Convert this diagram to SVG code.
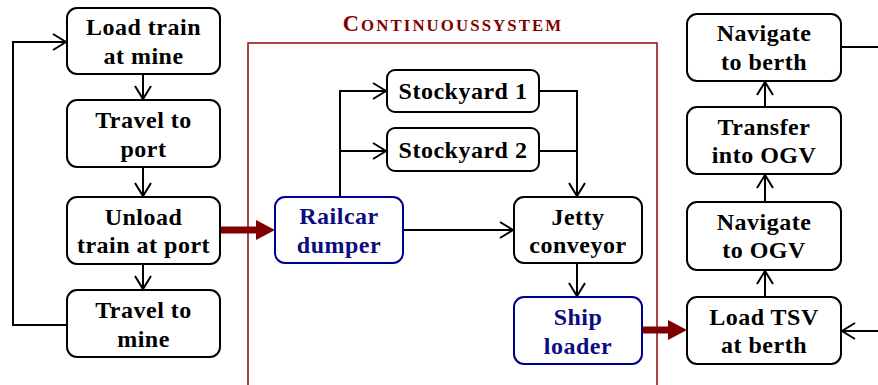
<svg xmlns="http://www.w3.org/2000/svg" width="878" height="385" viewBox="0 0 878 385">
<defs>
<marker id="ah" markerUnits="userSpaceOnUse" viewBox="-15 -10 17 20" refX="0" refY="0" markerWidth="17" markerHeight="20" orient="auto">
<path d="M-13,-8 L0,0 L-13,8" fill="none" stroke="#000" stroke-width="2"/>
</marker>
</defs>
<style>
.box{fill:#fff;stroke:#000;stroke-width:2}
.bbox{fill:#fff;stroke:#00008f;stroke-width:2}
.t{font-family:"Liberation Serif","Times New Roman",serif;font-weight:bold;font-size:24px;letter-spacing:0.5px;text-anchor:middle;fill:#000}
.bt{fill:#0c0c80}
.c{fill:none;stroke:#000;stroke-width:2}
.ca{fill:none;stroke:#000;stroke-width:2;marker-end:url(#ah)}
.red{fill:#800000}
.title{font-family:"Liberation Serif","Times New Roman",serif;font-weight:bold;fill:#800000;text-anchor:middle;letter-spacing:2.1px}
</style>
<rect width="878" height="385" fill="#fff"/>
<g id="container">
<rect x="248" y="43" width="409" height="360" fill="none" stroke="#9a1414" stroke-width="1.6"/>
<text class="title" x="453" y="31"><tspan font-size="22.5">C</tspan><tspan font-size="16.8">ONTINUOUSSYSTEM</tspan></text>
</g>
<g id="connectors">
<path class="ca" d="M143,74 V99"/>
<path class="ca" d="M143,167 V196"/>
<path class="ca" d="M143,264 V289"/>
<path class="ca" d="M67,325 H13 V42 H66"/>
<path class="ca" d="M340,197 V91 H386"/>
<path class="ca" d="M340,151 H386"/>
<path class="c" d="M539,91 H577 V151"/>
<path class="c" d="M539,151 H577"/>
<path class="ca" d="M577,151 V196"/>
<path class="ca" d="M403,230 H513"/>
<path class="ca" d="M577,263 V296"/>
<path class="ca" d="M765,297 V271"/>
<path class="ca" d="M765,202 V175"/>
<path class="ca" d="M765,107 V82"/>
<path class="c" d="M841,47 H878"/>
<path class="ca" d="M878,331 H842"/>
<rect class="red" x="220" y="226.5" width="38" height="7"/>
<polygon class="red" points="256,220 275,230 256,240"/>
<rect class="red" x="642" y="326.5" width="28" height="7"/>
<polygon class="red" points="668,320 687,330 668,340"/>
</g>
<g id="load-train">
<rect class="box" x="67" y="8" width="153" height="66" rx="10"/>
<text class="t" x="143.5" y="34.5">Load train</text>
<text class="t" x="143.5" y="63.5">at mine</text>
</g>
<g id="travel-port">
<rect class="box" x="67" y="100" width="153" height="67" rx="10"/>
<text class="t" x="143.5" y="128">Travel to</text>
<text class="t" x="143.5" y="157">port</text>
</g>
<g id="unload">
<rect class="box" x="67" y="197" width="153" height="67" rx="10"/>
<text class="t" x="143.5" y="224.5">Unload</text>
<text class="t" x="143.5" y="253">train at port</text>
</g>
<g id="travel-mine">
<rect class="box" x="67" y="290" width="153" height="67" rx="10"/>
<text class="t" x="143.5" y="318">Travel to</text>
<text class="t" x="143.5" y="347">mine</text>
</g>
<g id="railcar">
<rect class="bbox" x="275" y="197" width="128" height="66" rx="10"/>
<text class="t bt" x="339" y="224">Railcar</text>
<text class="t bt" x="339" y="253">dumper</text>
</g>
<g id="stockyard1">
<rect class="box" x="387" y="70" width="152" height="42" rx="8"/>
<text class="t" x="463" y="98.5">Stockyard 1</text>
</g>
<g id="stockyard2">
<rect class="box" x="387" y="128" width="152" height="43" rx="8"/>
<text class="t" x="463" y="158">Stockyard 2</text>
</g>
<g id="jetty">
<rect class="box" x="514" y="197" width="128" height="66" rx="10"/>
<text class="t" x="578" y="224.5">Jetty</text>
<text class="t" x="578" y="253">conveyor</text>
</g>
<g id="shiploader">
<rect class="bbox" x="514" y="297" width="128" height="67" rx="10"/>
<text class="t bt" x="578" y="325">Ship</text>
<text class="t bt" x="578" y="354">loader</text>
</g>
<g id="nav-berth">
<rect class="box" x="687" y="14" width="154" height="67" rx="10"/>
<text class="t" x="764" y="41">Navigate</text>
<text class="t" x="764" y="70">to berth</text>
</g>
<g id="transfer">
<rect class="box" x="687" y="107" width="154" height="67" rx="10"/>
<text class="t" x="764" y="134.5">Transfer</text>
<text class="t" x="764" y="163">into OGV</text>
</g>
<g id="nav-ogv">
<rect class="box" x="687" y="202" width="154" height="68" rx="10"/>
<text class="t" x="764" y="229.5">Navigate</text>
<text class="t" x="764" y="258">to OGV</text>
</g>
<g id="load-tsv">
<rect class="box" x="687" y="297" width="154" height="67" rx="10"/>
<text class="t" x="764" y="324.5">Load TSV</text>
<text class="t" x="764" y="353">at berth</text>
</g>
</svg>
